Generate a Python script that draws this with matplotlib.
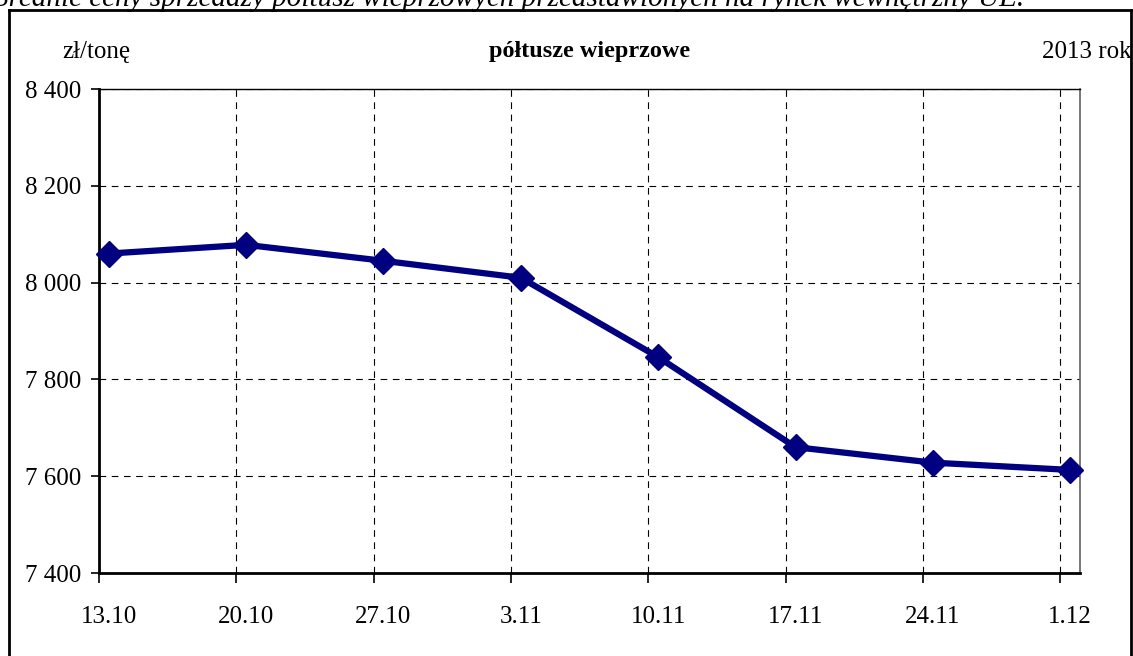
import matplotlib
matplotlib.use("Agg")
import matplotlib.pyplot as plt
from matplotlib.lines import Line2D
from matplotlib.ticker import FixedLocator, FuncFormatter

# ---- data ----
dates = ["13.10", "20.10", "27.10", "3.11", "10.11", "17.11", "24.11", "1.12"]
day_offsets = [0, 7, 14, 21, 28, 35, 42, 49]
prices = [8060, 8078, 8045, 8010, 7846, 7660, 7628, 7613]
y_ticks = [7400, 7600, 7800, 8000, 8200, 8400]

unit_label = "zł/tonę"
chart_title = "półtusze wieprzowe"
year_label = "2013 rok"
cut_caption = "Średnie ceny sprzedaży półtusz wieprzowych przedstawionych na rynek wewnętrzny UE."

plt.rcParams['font.family'] = ['Liberation Serif', 'DejaVu Serif']

W, H = 1133, 656
fig = plt.figure(figsize=(W / 100, H / 100), dpi=100)
fig.patch.set_facecolor("white")

def fx(px):
    return px / W

def fy(py):
    return 1 - py / H

ax_l, ax_r, ax_t, ax_b = 99, 1080, 89, 573
ax = fig.add_axes([fx(ax_l), fy(ax_b), fx(ax_r - ax_l), (ax_b - ax_t) / H])

ax.plot(day_offsets, prices, color="#000080", linewidth=4.5, marker="D",
        markersize=13, markerfacecolor="#000080", markeredgecolor="#000080",
        zorder=5, clip_on=False, solid_joinstyle="round")

ax.set_xlim(day_offsets[0] - 0.5, day_offsets[-1] + 0.5)
ax.set_ylim(y_ticks[0], y_ticks[-1])

# major x ticks at week boundaries (gridlines), labels on minor ticks at data points
major_x = [d - 0.5 for d in day_offsets]
ax.xaxis.set_major_locator(FixedLocator(major_x))
ax.xaxis.set_major_formatter(FuncFormatter(lambda v, p: ""))
ax.set_xticks(day_offsets, labels=dates, minor=True)
ax.tick_params(axis="x", which="major", direction="out", length=7, width=1.2, color="black")
ax.tick_params(axis="x", which="minor", length=0, pad=24, labelsize=18)

ax.set_yticks(y_ticks)
ax.yaxis.set_major_formatter(FuncFormatter(lambda v, p: f"{int(v):,}".replace(",", " ")))
ax.tick_params(axis="y", direction="out", length=6, width=1.2, pad=7, labelsize=18)

ax.grid(True, which="major", color="black", linestyle=(0, (6, 5)), linewidth=0.8)
ax.set_axisbelow(True)

for s in ["left", "bottom"]:
    ax.spines[s].set_linewidth(2.0)
    ax.spines[s].set_color("black")
ax.spines["top"].set_linewidth(1.0)
ax.spines["top"].set_color("black")
ax.spines["right"].set_linewidth(1.2)
ax.spines["right"].set_color("#606060")

# header texts
fig.text(fx(62), fy(52), unit_label, ha="left", va="center", fontsize=18)
fig.text(fx((ax_l + ax_r) / 2), fy(52), chart_title, ha="center", va="center",
         fontsize=17.5, fontweight="bold")
fig.text(fx(1132), fy(52), year_label, ha="right", va="center", fontsize=18)

# cut-off caption at the very top (partially outside the image, as in the reference)
fig.text(fx(1024), fy(6), cut_caption, ha="right", va="baseline",
         fontsize=21, style="italic")

# outer frame (left, top, right)
frame_kw = dict(color="black", linewidth=2.0, transform=fig.transFigure)
fig.add_artist(Line2D([fx(9), fx(9)], [fy(10), 0], **frame_kw))
fig.add_artist(Line2D([fx(9), fx(1131)], [fy(10), fy(10)], **frame_kw))
fig.add_artist(Line2D([fx(1131), fx(1131)], [fy(10), 0], **frame_kw))

fig.savefig("out.png", dpi=100)
